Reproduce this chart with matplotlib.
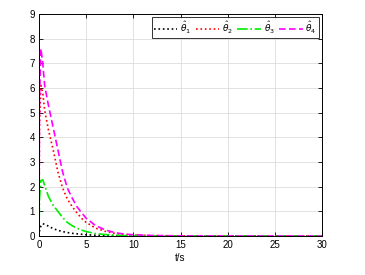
import matplotlib
matplotlib.use("Agg")
import matplotlib.pyplot as plt

plt.rcParams['font.family'] = ['Liberation Sans', 'DejaVu Sans']
plt.rcParams['mathtext.fontset'] = 'dejavusans'

t = [0, 0.05, 0.2, 0.4, 0.6, 1, 1.5, 2, 2.5, 3, 3.5, 4, 4.5, 5, 6, 7, 8, 9, 10, 12, 15, 20, 25, 30]
theta1 = [0, 0.2, 0.4, 0.5, 0.47, 0.4, 0.3, 0.23, 0.18, 0.14, 0.11, 0.09, 0.07, 0.05, 0.03, 0.02, 0.01, 0.005, 0, 0, 0, 0, 0, 0]
theta2 = [0, 4.5, 6.1, 5.8, 5.1, 4.3, 3.5, 2.6, 1.95, 1.5, 1.2, 0.95, 0.72, 0.55, 0.32, 0.19, 0.11, 0.06, 0.04, 0.015, 0.005, 0, 0, 0]
theta3 = [0, 1.5, 2.25, 2.28, 2.05, 1.6, 1.25, 1.0, 0.75, 0.55, 0.42, 0.32, 0.24, 0.18, 0.1, 0.06, 0.035, 0.02, 0.01, 0.004, 0, 0, 0, 0]
theta4 = [0, 5.5, 7.6, 7.0, 6.1, 5.3, 4.4, 3.5, 2.6, 1.95, 1.55, 1.2, 0.95, 0.72, 0.42, 0.25, 0.14, 0.08, 0.05, 0.02, 0.005, 0, 0, 0]
labels = [r'$\hat{\theta}_1$', r'$\hat{\theta}_2$', r'$\hat{\theta}_3$', r'$\hat{\theta}_4$']
xticks = [0, 5, 10, 15, 20, 25, 30]
yticks = list(range(10))

fig = plt.figure(figsize=(3.65, 2.75), dpi=100)
ax = fig.add_axes([39/365, 39/275, 283/365, 222/275])

ax.plot(t, theta1, color='black', linestyle=':', lw=1.2, label=labels[0])
ax.plot(t, theta2, color='red', linestyle=':', lw=1.2, label=labels[1])
ax.plot(t, theta3, color='#00ee00', linestyle='-.', lw=1.2, label=labels[2])
ax.plot(t, theta4, color='magenta', linestyle='--', lw=1.2, dashes=(4, 2), label=labels[3])

ax.set_xlim(0, 30)
ax.set_ylim(0, 9)
ax.set_xticks(xticks)
ax.set_yticks(yticks)
ax.grid(True, color='#dddddd', lw=0.6)
ax.set_axisbelow(True)
ax.tick_params(direction='in', top=True, right=True, labelsize=7, length=3, width=0.6, pad=3)
for s in ax.spines.values():
    s.set_linewidth(0.7)
ax.set_xlabel('t/s', fontsize=7, labelpad=2)

leg = ax.legend(loc='upper right', ncol=4, fontsize=6.5, frameon=True, fancybox=False,
                edgecolor='black', handlelength=2.6, columnspacing=0.5, handletextpad=0.3,
                borderpad=0.25, borderaxespad=0.35)
leg.get_frame().set_linewidth(0.7)

fig.savefig('out.png', dpi=100)
